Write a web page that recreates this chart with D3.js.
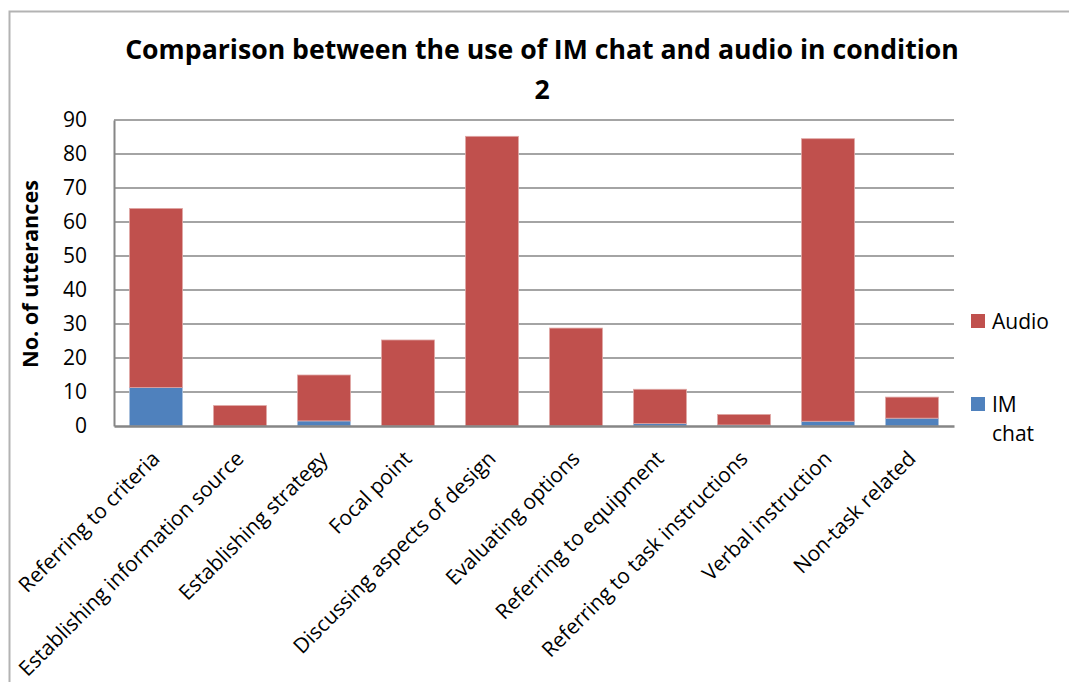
<!DOCTYPE html>
<html>
<head>
<meta charset="utf-8">
<script src="https://cdn.jsdelivr.net/npm/d3@7"></script>
<style>
  body { margin: 0; background: #fff; }
  svg { display: block; font-family: "Open Sans", Lato, sans-serif; }
</style>
</head>
<body>
<svg id="chart"></svg>
<script>
const width = 1069;
const height = 682;

const categories = [
  "Referring to criteria",
  "Establishing information source",
  "Establishing strategy",
  "Focal point",
  "Discussing aspects of design",
  "Evaluating options",
  "Referring to equipment",
  "Referring to task instructions",
  "Verbal instruction",
  "Non-task related"
];
// values
const imChat = [11.3, 0, 1.5, 0, 0, 0, 0.7, 0.3, 1.4, 2.3];
const audio = [52.7, 6, 13.5, 25.3, 85.2, 28.8, 10.1, 3.1, 83.1, 6.2];
const yTicks = [0, 10, 20, 30, 40, 50, 60, 70, 80, 90];
const seriesNames = ["IM chat", "Audio"];
const colors = { "IM chat": "#4F81BD", "Audio": "#C0504D" };
const strokes = { "IM chat": "#a7bfdd", "Audio": "#dfa7a5" };

const plotLeft = 114, plotRight = 954, plotTop = 120, plotBottom = 426;
const font = "'Open Sans', Lato, sans-serif";

const svg = d3.select("#chart").attr("width", width).attr("height", height);

// outer frame
svg.append("path")
  .attr("d", `M9.5,${height} V11.5 H${width}`)
  .attr("fill", "none")
  .attr("stroke", "#b3b3b3")
  .attr("stroke-width", 2);

const xScale = d3.scaleBand()
  .domain(categories)
  .range([plotLeft, plotRight])
  .paddingInner(0.37)
  .paddingOuter(0.185);

const yScale = d3.scaleLinear()
  .domain([0, 90])
  .range([plotBottom, plotTop]);

// gridlines
svg.append("g")
  .selectAll("line")
  .data(yTicks.slice(1))
  .enter()
  .append("line")
  .attr("x1", plotLeft)
  .attr("x2", plotRight)
  .attr("y1", d => yScale(d))
  .attr("y2", d => yScale(d))
  .attr("stroke", "#868686")
  .attr("stroke-width", 1.3);

// stacked bars
const rows = categories.map((c, i) => ({ cat: c, "IM chat": imChat[i], "Audio": audio[i] }));
const stacked = d3.stack().keys(seriesNames)(rows);

svg.append("g")
  .selectAll("g")
  .data(stacked)
  .enter()
  .append("g")
  .attr("fill", d => colors[d.key])
  .attr("stroke", d => strokes[d.key])
  .selectAll("rect")
  .data(d => d.filter(p => p[1] - p[0] > 0))
  .enter()
  .append("rect")
  .attr("x", d => xScale(d.data.cat))
  .attr("width", xScale.bandwidth())
  .attr("y", d => yScale(d[1]))
  .attr("height", d => yScale(d[0]) - yScale(d[1]))
  .attr("stroke-width", 0.8);

// y axis
const yAxis = d3.axisLeft(yScale).tickValues(yTicks).tickSize(0).tickPadding(27);
const yg = svg.append("g")
  .attr("transform", `translate(${plotLeft},0)`)
  .call(yAxis);
yg.select(".domain").attr("stroke", "#868686").attr("stroke-width", 2);
yg.selectAll("text")
  .attr("font-size", 21)
  .attr("fill", "#000")
  .style("font-family", font);

// x axis
const xAxis = d3.axisBottom(xScale).tickSize(0).tickPadding(0);
const xg = svg.append("g")
  .attr("transform", `translate(0,${plotBottom})`)
  .call(xAxis);
xg.select(".domain").attr("stroke", "#868686").attr("stroke-width", 2.5);
const xLabels = xg.selectAll("text")
  .attr("font-size", 18)
  .attr("fill", "#000")
  .style("font-family", font)
  .attr("text-anchor", "end")
  .attr("dy", 0)
  .attr("y", 0)
  .attr("transform", "translate(5,34) rotate(-45)");
// size labels so the longest one is as long as in the original
const longest = d3.max(xLabels.nodes(), n => n.getComputedTextLength());
xLabels.attr("font-size", 18 * 308 / longest);

// y axis title
const yTitle = svg.append("text")
  .attr("transform", "translate(38,274) rotate(-90)")
  .attr("text-anchor", "middle")
  .attr("font-size", 20)
  .attr("font-weight", "bold")
  .text("No. of utterances");
yTitle.attr("font-size", 20 * 188 / yTitle.node().getComputedTextLength());

// title, two lines
const titleLines = ["Comparison between the use of IM chat and audio in condition", "2"];
const title = svg.append("g");
title.selectAll("text")
  .data(titleLines)
  .enter()
  .append("text")
  .attr("x", 542)
  .attr("y", (d, i) => 59 + i * 40)
  .attr("text-anchor", "middle")
  .attr("font-weight", "bold")
  .attr("font-size", 24)
  .text(d => d);
// fit the first line to the width it has in the original
const firstLine = title.select("text").node();
const fs = 24 * 834 / firstLine.getComputedTextLength();
title.selectAll("text").attr("font-size", fs);

// legend
const legendItems = [
  { key: "Audio", lines: ["Audio"], y: 321 },
  { key: "IM chat", lines: ["IM", "chat"], y: 404 }
];
const lg = svg.append("g");
legendItems.forEach(item => {
  lg.append("rect")
    .attr("x", 971)
    .attr("y", item.y - 7)
    .attr("width", 14)
    .attr("height", 14)
    .attr("fill", colors[item.key]);
  item.lines.forEach((t, j) => {
    lg.append("text")
      .attr("x", 992)
      .attr("y", item.y + 8 + j * 29)
      .attr("font-size", 21)
      .text(t);
  });
});
</script>
</body>
</html>
